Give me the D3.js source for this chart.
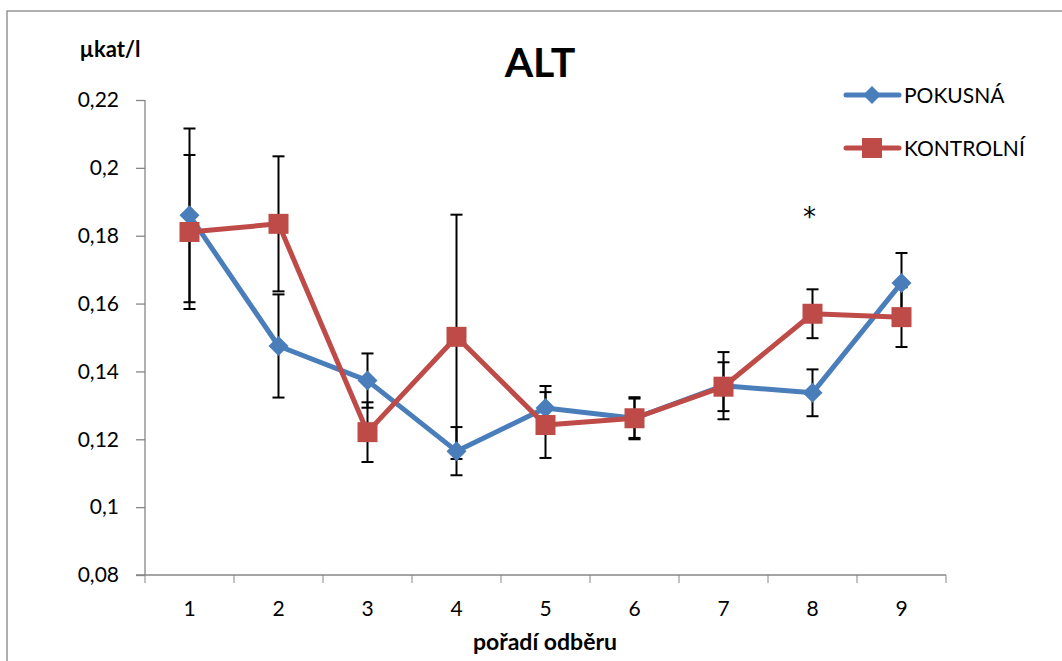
<!DOCTYPE html>
<html>
<head>
<meta charset="utf-8">
<script src="https://cdn.jsdelivr.net/npm/d3@7"></script>
<style>
  body { margin: 0; background: #fff; }
  text { font-family: Lato, "Noto Sans", sans-serif; }
</style>
</head>
<body>
<div id="chart"></div>
<script>
// data
var categories = ["1", "2", "3", "4", "5", "6", "7", "8", "9"];
var pokusna     = [0.186, 0.1475, 0.1373, 0.1165, 0.1292, 0.1262, 0.1358, 0.1337, 0.1661];
var pokusnaErr  = [0.0256, 0.0152, 0.0080, 0.0071, 0.0065, 0.0062, 0.0099, 0.0069, 0.0088];
var kontrolni    = [0.1811, 0.1835, 0.1221, 0.1502, 0.1242, 0.1262, 0.1355, 0.1570, 0.156];
var kontrolniErr = [0.0227, 0.0199, 0.0088, 0.0360, 0.0097, 0.0058, 0.0072, 0.0072, 0.0088];
var yTicks = [0.08, 0.1, 0.12, 0.14, 0.16, 0.18, 0.2, 0.22];
var starAt = 7;        // index of the "*" (odběr 8)
var starValue = 0.183; // where the "*" sits

var W = 1062, H = 661;
var margin = {top: 100, right: 116, bottom: 86, left: 145};
var width = W - margin.left - margin.right,   // 801
    height = H - margin.top - margin.bottom;  // 475

var svg = d3.select("#chart").append("svg")
    .attr("width", W)
    .attr("height", H);

// outer frame (only top and left visible)
svg.append("rect")
    .attr("x", 7).attr("y", 11)
    .attr("width", W + 20).attr("height", H + 20)
    .attr("fill", "none")
    .attr("stroke", "#868686")
    .attr("stroke-width", 1.3);

var g = svg.append("g")
    .attr("transform", "translate(" + margin.left + "," + margin.top + ")");

var x = d3.scaleBand().domain(categories).range([0, width]);
var y = d3.scaleLinear().domain([0.08, 0.22]).range([height, 0]);

var fmt = function(d) { return d3.format("")(+d.toFixed(2)).replace(".", ","); };

// y axis
var yAxis = g.append("g")
    .call(d3.axisLeft(y).tickValues(yTicks).tickSize(9).tickPadding(17).tickFormat(fmt));
yAxis.selectAll("text").style("font-size", "21px").attr("fill", "#000");

// x axis
var xAxis = g.append("g")
    .attr("transform", "translate(0," + height + ")")
    .call(d3.axisBottom(x).tickSize(0).tickPadding(26));
xAxis.selectAll("text").style("font-size", "21px").attr("fill", "#000");
// ticks between categories
xAxis.selectAll(".between")
    .data(d3.range(categories.length + 1))
    .enter().append("line")
    .attr("x1", function(i) { return i * x.step(); })
    .attr("x2", function(i) { return i * x.step(); })
    .attr("y1", 0).attr("y2", 8)
    .attr("stroke", "#868686");

g.selectAll(".domain, .tick line").attr("stroke", "#868686").attr("stroke-width", 1.3);
xAxis.select(".domain").attr("d", "M-9,0H" + width);
yAxis.select(".domain").attr("d", "M0,0V" + height);

// titles
svg.append("text")
    .attr("x", 540).attr("y", 77)
    .attr("text-anchor", "middle")
    .style("font-size", "41px").style("font-weight", "bold")
    .text("ALT");

svg.append("text")
    .attr("x", 110).attr("y", 57)
    .attr("text-anchor", "middle")
    .style("font-size", "22px").style("font-weight", "bold")
    .text("µkat/l");

svg.append("text")
    .attr("x", 545).attr("y", 650)
    .attr("text-anchor", "middle")
    .style("font-size", "23px").style("font-weight", "bold")
    .text("pořadí odběru");

var cx = function(d, i) { return x(categories[i]) + x.bandwidth() / 2; };

function errorBars(vals, errs) {
  var eb = g.append("g");
  vals.forEach(function(v, i) {
    var xx = cx(v, i), y0 = y(v - errs[i]), y1 = y(v + errs[i]);
    eb.append("line").attr("x1", xx).attr("x2", xx).attr("y1", y0).attr("y2", y1)
      .attr("stroke", "#000").attr("stroke-width", 2);
    [y0, y1].forEach(function(yy) {
      eb.append("line").attr("x1", xx - 6).attr("x2", xx + 6).attr("y1", yy).attr("y2", yy)
        .attr("stroke", "#000").attr("stroke-width", 2);
    });
  });
}

var line = d3.line().x(cx).y(function(d) { return y(d); });

var blue = "#4a7ebb", red = "#be4b48";

errorBars(pokusna, pokusnaErr);
errorBars(kontrolni, kontrolniErr);

// series POKUSNÁ
g.append("path").datum(pokusna)
    .attr("d", line).attr("fill", "none")
    .attr("stroke", blue).attr("stroke-width", 5).attr("stroke-linejoin", "round");
g.selectAll(".dia").data(pokusna).enter().append("path")
    .attr("transform", function(d, i) { return "translate(" + cx(d, i) + "," + y(d) + ")"; })
    .attr("d", "M0,-10L10,0L0,10L-10,0Z")
    .attr("fill", blue);

// series KONTROLNÍ
g.append("path").datum(kontrolni)
    .attr("d", line).attr("fill", "none")
    .attr("stroke", red).attr("stroke-width", 5).attr("stroke-linejoin", "round");
g.selectAll(".sq").data(kontrolni).enter().append("rect")
    .attr("x", function(d, i) { return cx(d, i) - 10; })
    .attr("y", function(d) { return y(d) - 10; })
    .attr("width", 20).attr("height", 20)
    .attr("fill", red);

// significance mark
g.append("text")
    .attr("x", x(categories[starAt]) + x.bandwidth() / 2 - 3)
    .attr("y", y(starValue))
    .attr("text-anchor", "middle")
    .style("font-size", "26px").style("font-family", "'DejaVu Sans'")
    .text("*");

// legend
var legend = [
  {name: "POKUSNÁ", color: blue, shape: "diamond", y: 95},
  {name: "KONTROLNÍ", color: red, shape: "square", y: 148}
];
legend.forEach(function(l) {
  svg.append("line").attr("x1", 846).attr("x2", 899).attr("y1", l.y).attr("y2", l.y)
    .attr("stroke", l.color).attr("stroke-width", 5).attr("stroke-linecap", "round");
  if (l.shape == "diamond") {
    svg.append("path").attr("transform", "translate(872," + l.y + ")")
      .attr("d", "M0,-9L9,0L0,9L-9,0Z").attr("fill", l.color);
  } else {
    svg.append("rect").attr("x", 862).attr("y", l.y - 10).attr("width", 20).attr("height", 20)
      .attr("fill", l.color);
  }
  svg.append("text").attr("x", 904).attr("y", l.y + 8)
    .style("font-size", "21px").text(l.name);
});
</script>
</body>
</html>
